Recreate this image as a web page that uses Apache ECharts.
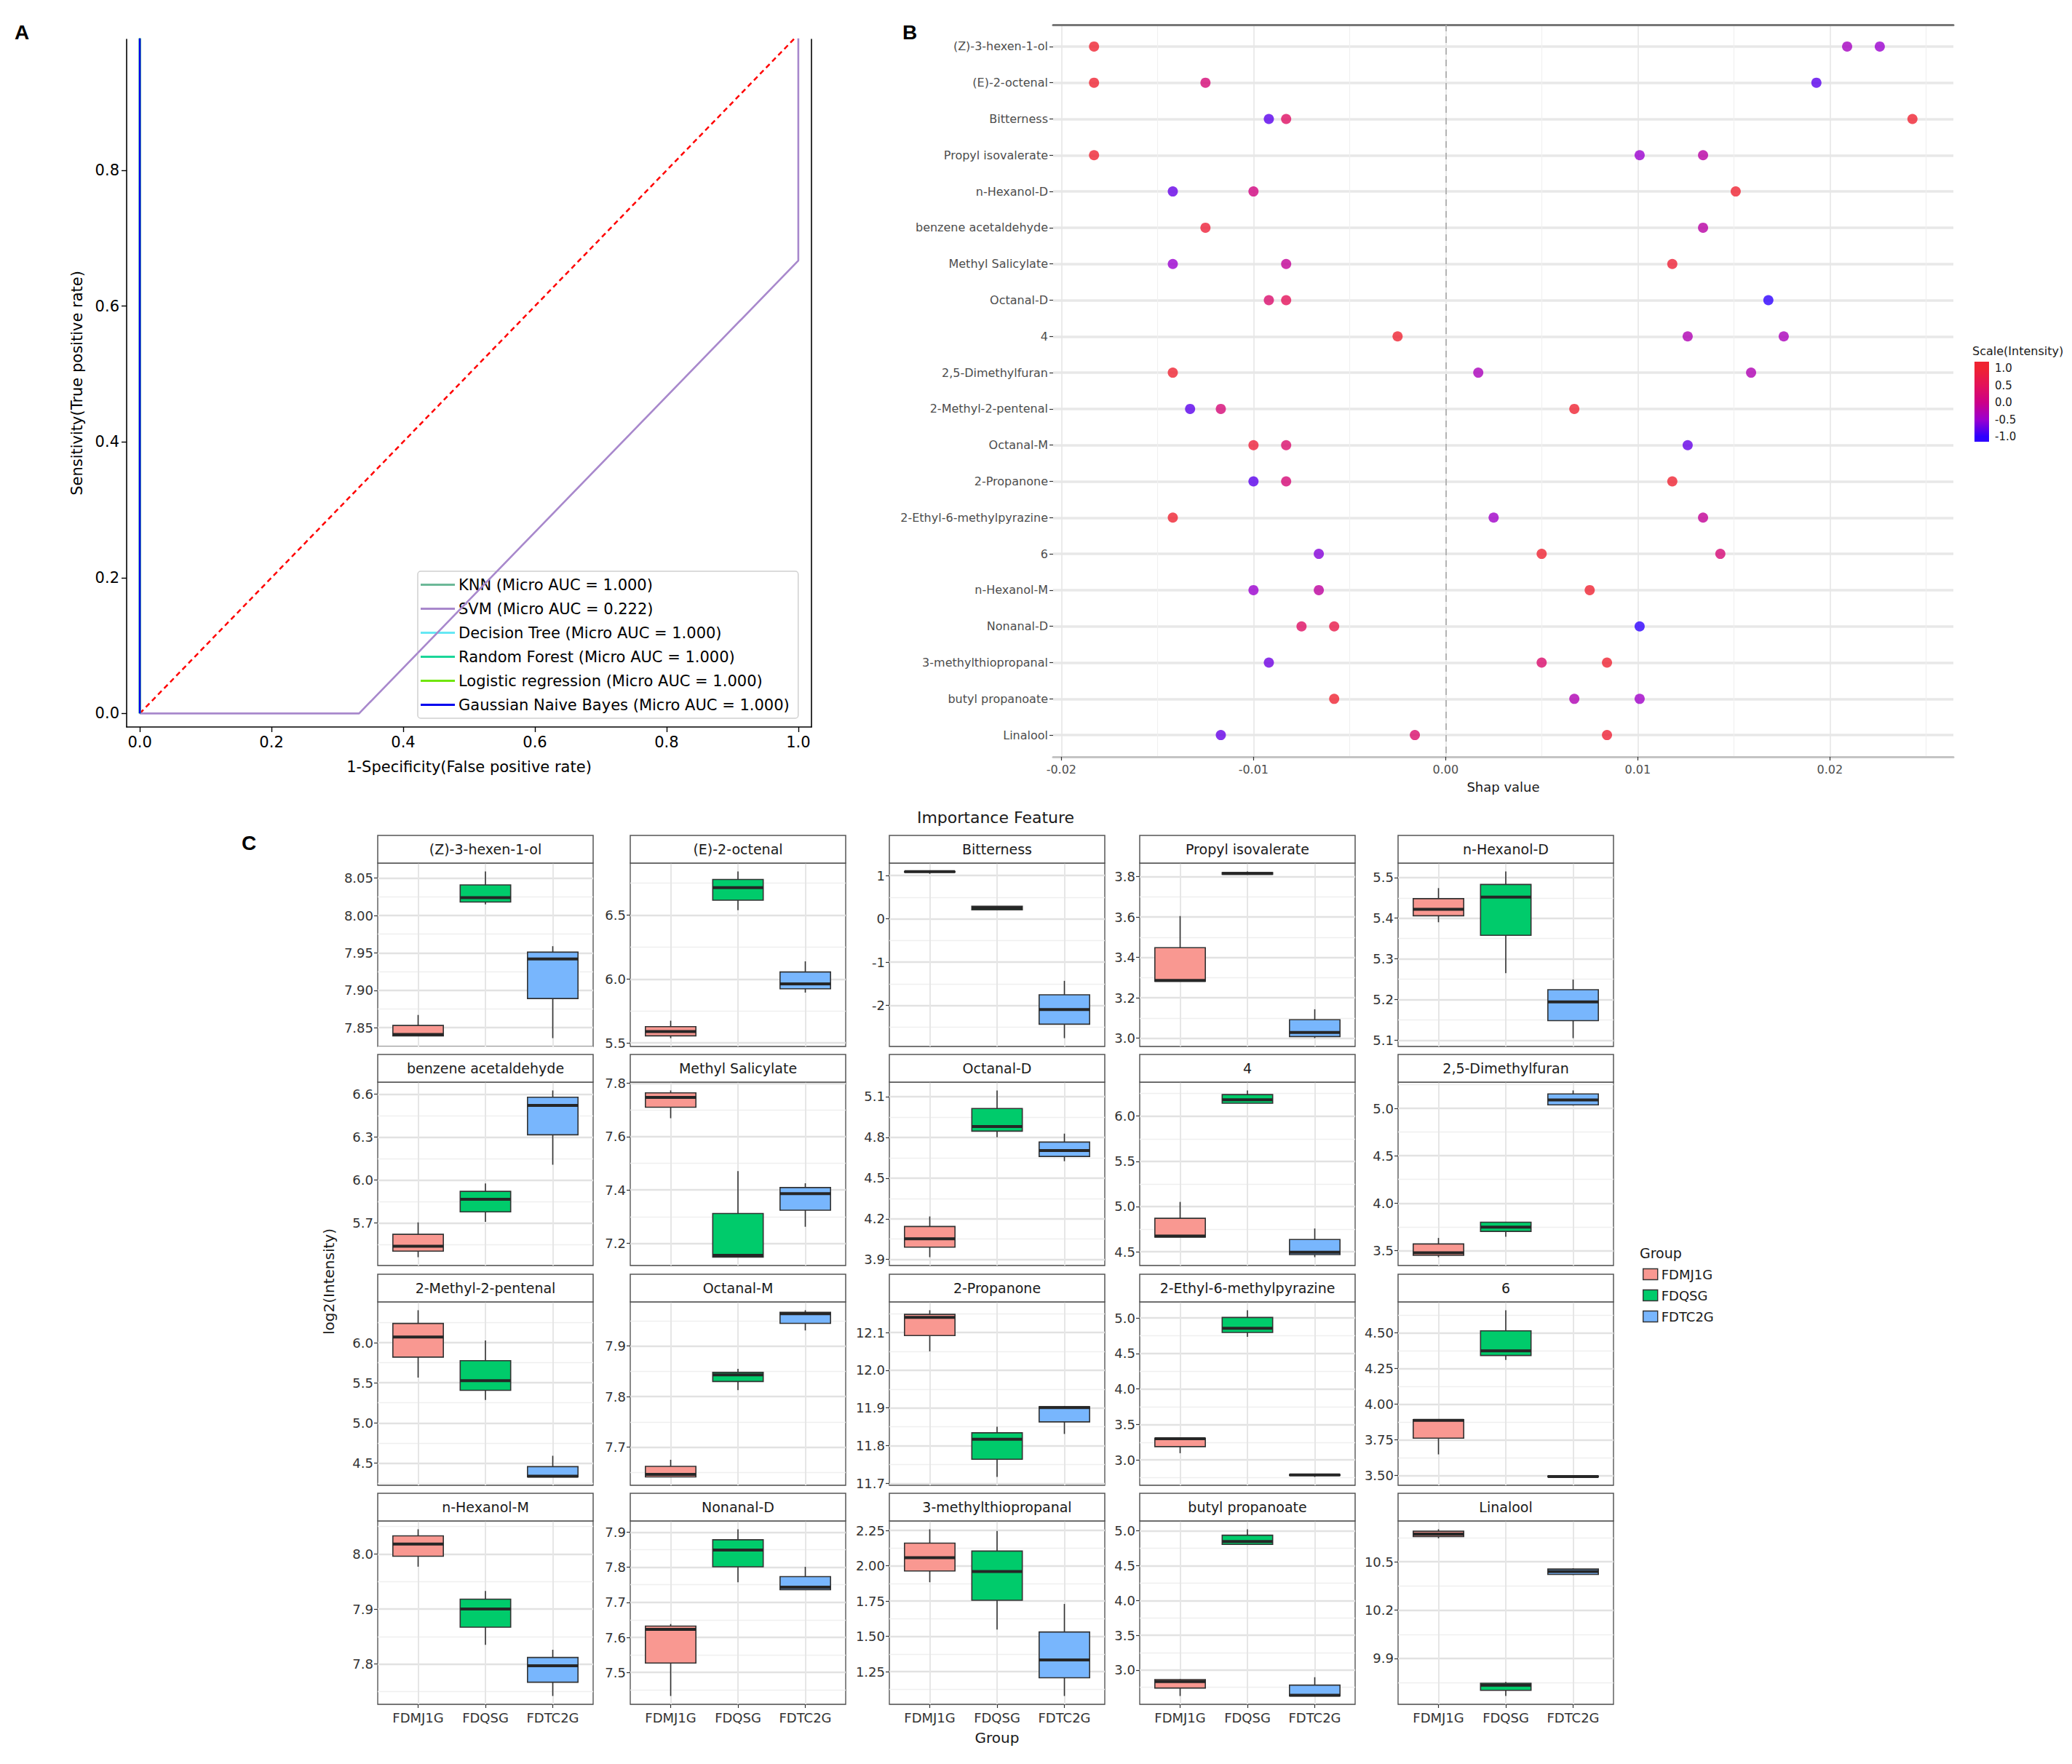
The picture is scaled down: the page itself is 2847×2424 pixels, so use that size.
<!DOCTYPE html>
<html><head><meta charset="utf-8">
<script src="https://cdn.jsdelivr.net/npm/echarts@6/dist/echarts.min.js"></script>
<style>html,body{margin:0;padding:0;background:#fff}#c{width:2847px;height:2424px}</style>
</head><body><div id="c"></div>
<script>
// ================= DATA =================
// Panel A : ROC curves
const rocModels = ['KNN', 'SVM', 'Decision Tree', 'Random Forest', 'Logistic regression', 'Gaussian Naive Bayes'];
const rocAUC = [1.000, 0.222, 1.000, 1.000, 1.000, 1.000];
const rocFPR = [[0, 0, 1], [0, 0.333, 1, 1], [0, 0, 1], [0, 0, 1], [0, 0, 1], [0, 0, 1]];
const rocTPR = [[0, 1, 1], [0, 0, 0.667, 1], [0, 1, 1], [0, 1, 1], [0, 1, 1], [0, 1, 1]];
const rocChanceFPR = [0, 1];
const rocChanceTPR = [0, 1];
const rocXTicks = [0, 0.2, 0.4, 0.6, 0.8, 1.0];
const rocYTicks = [0, 0.2, 0.4, 0.6, 0.8];

// Panel B : SHAP values
const shapFeatures = ['(Z)-3-hexen-1-ol', '(E)-2-octenal', 'Bitterness', 'Propyl isovalerate', 'n-Hexanol-D',
  'benzene acetaldehyde', 'Methyl Salicylate', 'Octanal-D', '4', '2,5-Dimethylfuran',
  '2-Methyl-2-pentenal', 'Octanal-M', '2-Propanone', '2-Ethyl-6-methylpyrazine', '6',
  'n-Hexanol-M', 'Nonanal-D', '3-methylthiopropanal', 'butyl propanoate', 'Linalool'];
const shapValues = [
  [-0.0183, 0.0209, 0.0226], [-0.0183, -0.0125, 0.0193], [-0.0092, -0.0083, 0.0243], [-0.0183, 0.0101, 0.0134],
  [-0.0142, -0.0100, 0.0151], [-0.0125, 0.0134], [-0.0142, -0.0083, 0.0118], [-0.0092, -0.0083, 0.0168],
  [-0.0025, 0.0126, 0.0176], [-0.0142, 0.0017, 0.0159], [-0.0133, -0.0117, 0.0067], [-0.0100, -0.0083, 0.0126],
  [-0.0100, -0.0083, 0.0118], [-0.0142, 0.0025, 0.0134], [-0.0066, 0.0050, 0.0143], [-0.0100, -0.0066, 0.0075],
  [-0.0075, -0.0058, 0.0101], [-0.0092, 0.0050, 0.0084], [-0.0058, 0.0067, 0.0101], [-0.0117, -0.0016, 0.0084]];
const shapIntensity = [
  [1.0, -0.4, -0.5], [1.0, 0.2, -0.8], [-0.8, 0.4, 1.0], [1.0, -0.5, -0.2],
  [-0.75, 0.1, 1.0], [0.9, -0.2], [-0.5, -0.1, 0.95], [0.3, 0.5, -1.0],
  [1.0, -0.3, -0.35], [1.0, -0.35, -0.3], [-0.8, 0.2, 1.0], [0.9, 0.3, -0.75],
  [-0.8, 0.2, 1.0], [1.0, -0.45, -0.1], [-0.6, 1.0, 0.2], [-0.5, -0.15, 1.0],
  [0.4, 0.7, -1.0], [-0.7, 0.3, 1.0], [1.0, -0.3, -0.45], [-0.75, 0.3, 0.95]];
const shapTicks = [-0.02, -0.01, 0.00, 0.01, 0.02];
const scaleTicks = [-1.0, -0.5, 0.0, 0.5, 1.0];

// Panel C : boxplots, per feature, per group: [min, Q1, median, Q3, max]
const groups = ['FDMJ1G', 'FDQSG', 'FDTC2G'];
const boxFeatures = ['(Z)-3-hexen-1-ol', '(E)-2-octenal', 'Bitterness', 'Propyl isovalerate', 'n-Hexanol-D',
  'benzene acetaldehyde', 'Methyl Salicylate', 'Octanal-D', '4', '2,5-Dimethylfuran',
  '2-Methyl-2-pentenal', 'Octanal-M', '2-Propanone', '2-Ethyl-6-methylpyrazine', '6',
  'n-Hexanol-M', 'Nonanal-D', '3-methylthiopropanal', 'butyl propanoate', 'Linalool'];
const boxStats = [
  [[7.839, 7.839, 7.841, 7.853, 7.867], [8.015, 8.018, 8.024, 8.041, 8.059], [7.836, 7.889, 7.942, 7.951, 7.959]],
  [[5.538, 5.556, 5.590, 5.628, 5.674], [6.538, 6.616, 6.714, 6.778, 6.841], [5.894, 5.924, 5.962, 6.055, 6.138]],
  [[1.04, 1.08, 1.09, 1.095, 1.095], [0.21, 0.21, 0.25, 0.29, 0.29], [-2.756, -2.433, -2.094, -1.756, -1.433]],
  [[3.282, 3.282, 3.286, 3.448, 3.605], [3.812, 3.812, 3.816, 3.820, 3.826], [3.000, 3.008, 3.028, 3.091, 3.143]],
  [[5.390, 5.406, 5.422, 5.448, 5.474], [5.265, 5.358, 5.452, 5.483, 5.515], [5.105, 5.148, 5.194, 5.224, 5.249]],
  [[5.460, 5.502, 5.536, 5.620, 5.703], [5.707, 5.777, 5.864, 5.920, 5.975], [6.106, 6.315, 6.521, 6.578, 6.625]],
  [[7.669, 7.710, 7.747, 7.764, 7.773], [7.148, 7.148, 7.155, 7.312, 7.471], [7.262, 7.324, 7.386, 7.409, 7.425]],
  [[3.917, 3.991, 4.053, 4.143, 4.217], [4.800, 4.845, 4.880, 5.012, 5.145], [4.624, 4.659, 4.703, 4.765, 4.827]],
  [[4.662, 4.662, 4.673, 4.870, 5.051], [6.143, 6.143, 6.181, 6.238, 6.284], [4.440, 4.468, 4.495, 4.635, 4.757]],
  [[3.429, 3.449, 3.475, 3.569, 3.632], [3.645, 3.701, 3.747, 3.798, 3.798], [5.030, 5.038, 5.089, 5.153, 5.190]],
  [[5.565, 5.820, 6.072, 6.240, 6.405], [5.287, 5.407, 5.527, 5.776, 6.029], [4.326, 4.326, 4.335, 4.455, 4.590]],
  [[7.641, 7.641, 7.646, 7.662, 7.675], [7.813, 7.830, 7.843, 7.848, 7.855], [7.931, 7.945, 7.964, 7.967, 7.971]],
  [[12.050, 12.092, 12.140, 12.148, 12.159], [11.717, 11.764, 11.817, 11.834, 11.850], [11.831, 11.863, 11.901, 11.903, 11.905]],
  [[3.095, 3.187, 3.299, 3.306, 3.310], [4.735, 4.796, 4.854, 5.007, 5.109], [2.760, 2.785, 2.789, 2.792, 2.795]],
  [[3.648, 3.762, 3.886, 3.892, 3.892], [4.310, 4.341, 4.373, 4.514, 4.658], [3.490, 3.490, 3.493, 3.496, 3.496]],
  [[7.977, 7.996, 8.018, 8.033, 8.045], [7.835, 7.867, 7.900, 7.918, 7.933], [7.742, 7.767, 7.797, 7.812, 7.826]],
  [[7.433, 7.527, 7.623, 7.632, 7.638], [7.757, 7.801, 7.849, 7.878, 7.908], [7.736, 7.736, 7.743, 7.773, 7.801]],
  [[1.884, 1.964, 2.058, 2.161, 2.259], [1.548, 1.756, 1.960, 2.105, 2.247], [1.078, 1.207, 1.334, 1.531, 1.730]],
  [[2.626, 2.740, 2.834, 2.862, 2.870], [4.806, 4.806, 4.848, 4.938, 5.024], [2.626, 2.626, 2.637, 2.782, 2.896]],
  [[10.646, 10.657, 10.672, 10.690, 10.702], [9.667, 9.702, 9.734, 9.746, 9.754], [10.418, 10.422, 10.440, 10.455, 10.460]]];
const boxTickLabels = [
  ['7.85', '7.90', '7.95', '8.00', '8.05'], ['5.5', '6.0', '6.5'], ['-2', '-1', '0', '1'], ['3.0', '3.2', '3.4', '3.6', '3.8'], ['5.1', '5.2', '5.3', '5.4', '5.5'],
  ['5.7', '6.0', '6.3', '6.6'], ['7.2', '7.4', '7.6', '7.8'], ['3.9', '4.2', '4.5', '4.8', '5.1'], ['4.5', '5.0', '5.5', '6.0'], ['3.5', '4.0', '4.5', '5.0'],
  ['4.5', '5.0', '5.5', '6.0'], ['7.7', '7.8', '7.9'], ['11.7', '11.8', '11.9', '12.0', '12.1'], ['3.0', '3.5', '4.0', '4.5', '5.0'], ['3.50', '3.75', '4.00', '4.25', '4.50'],
  ['7.8', '7.9', '8.0'], ['7.5', '7.6', '7.7', '7.8', '7.9'], ['1.25', '1.50', '1.75', '2.00', '2.25'], ['3.0', '3.5', '4.0', '4.5', '5.0'], ['9.9', '10.2', '10.5']];

// ================= STYLE / LAYOUT =================
const FONT = 'DejaVu Sans';
const rocColors = ['#6cb898', '#a888cc', '#66e8f4', '#1bd699', '#70e60a', '#0000ee'];
const groupColors = ['#f99891', '#00cb6b', '#78b6fd'];
const scaleColors = ['#2e00ff', '#9b00cf', '#cc0088', '#e3125a', '#ef2332'];
const colLeft = [519, 866, 1222, 1566, 1921];
const rowTop = [1186, 1487, 1789, 2090];
const panelW = 296, plotH = 252, stripH = 38;

const chart = echarts.init(document.getElementById('c'), null, {renderer: 'svg', width: 2847, height: 2424});
const grid = [], xAxis = [], yAxis = [], series = [], graphic = [];

function gtext(text, x, y, size, o) {
  o = o || {};
  const align = o.align || 'left', valign = o.valign || 'middle';
  return {type: 'text', x: x, y: y, rotation: o.rot || 0, z: 20, silent: true,
    style: {text: text, fill: o.color || '#1a1a1a',
      font: (o.weight || 'normal') + ' ' + size + 'px "' + (o.family || FONT) + '"',
      textAlign: align, textVerticalAlign: valign, align: align, verticalAlign: valign}};
}
const hiddenLine = {show: false, onZero: false};

// ---------- Panel A ----------
const gA = grid.length;
grid.push({left: 174, top: 54, width: 941, height: 945, show: false});
const xA = xAxis.length;
xAxis.push({gridIndex: gA, type: 'value', min: -0.02, max: 1.02,
  axisLine: {show: true, onZero: false, lineStyle: {color: '#000', width: 1.6}},
  axisTick: {show: true, length: 7, lineStyle: {color: '#000', width: 1.4}, customValues: rocXTicks},
  axisLabel: {customValues: rocXTicks, formatter: v => Number(v).toFixed(1), fontSize: 21, color: '#000', fontFamily: FONT, margin: 10, hideOverlap: false},
  splitLine: {show: false},
  name: '1-Specificity(False positive rate)', nameLocation: 'middle', nameGap: 44,
  nameTextStyle: {fontSize: 21, color: '#000', fontFamily: FONT}});
const yA = yAxis.length;
yAxis.push({gridIndex: gA, type: 'value', min: -0.02, max: 0.993,
  axisLine: {show: true, onZero: false, lineStyle: {color: '#000', width: 1.6}},
  axisTick: {show: true, length: 7, lineStyle: {color: '#000', width: 1.4}, customValues: rocYTicks},
  axisLabel: {customValues: rocYTicks, formatter: v => Number(v).toFixed(1), fontSize: 21, color: '#000', fontFamily: FONT, margin: 10, hideOverlap: false},
  splitLine: {show: false},
  name: 'Sensitivity(True positive rate)', nameLocation: 'middle', nameGap: 58,
  nameTextStyle: {fontSize: 21, color: '#000', fontFamily: FONT}});
yAxis.push({gridIndex: gA, type: 'value', position: 'right', min: -0.02, max: 0.993,
  axisLine: {show: true, onZero: false, lineStyle: {color: '#000', width: 1.6}},
  axisTick: {show: false}, axisLabel: {show: false}, splitLine: {show: false}});
series.push({type: 'line', name: 'chance', xAxisIndex: xA, yAxisIndex: yA,
  data: rocChanceFPR.map((x, j) => [x, rocChanceTPR[j]]), symbol: 'none',
  lineStyle: {color: '#ff0000', width: 2.5, type: [7, 5]}, itemStyle: {color: '#ff0000'}, z: 2});
const rocNames = rocModels.map((m, i) => m + ' (Micro AUC = ' + rocAUC[i].toFixed(3) + ')');
rocModels.forEach((m, i) => {
  series.push({type: 'line', name: rocNames[i], xAxisIndex: xA, yAxisIndex: yA,
    data: rocFPR[i].map((x, j) => [x, rocTPR[i][j]]), symbol: 'none', showSymbol: false,
    lineStyle: {color: rocColors[i], width: 2.6}, itemStyle: {color: rocColors[i]}, z: 3 + i});
});

// ---------- Panel B ----------
const gB = grid.length;
grid.push({left: 1447, top: 34, width: 1237, height: 1006, show: false});
const allShap = shapValues.flat();
const sMin = Math.min(...allShap), sMax = Math.max(...allShap), sPad = 0.05 * (sMax - sMin);
const shapStep = shapTicks[1] - shapTicks[0];
const shapMinor = [];
for (let k = -1; k < shapTicks.length; k++) {
  const m = shapTicks[0] + (k + 0.5) * shapStep;
  if (m > sMin - sPad && m < sMax + sPad) shapMinor.push(+m.toFixed(4));
}
const xB = xAxis.length;
xAxis.push({gridIndex: gB, type: 'value', min: sMin - sPad, max: sMax + sPad,
  axisLine: {show: true, onZero: false, lineStyle: {color: '#c4c4c4', width: 3}},
  axisTick: {show: true, length: 5, lineStyle: {color: '#333', width: 1.2}, customValues: shapTicks},
  axisLabel: {customValues: shapTicks, formatter: v => Number(v).toFixed(2), fontSize: 16, color: '#4d4d4d', fontFamily: FONT, margin: 9, hideOverlap: false},
  splitLine: {show: true, customValues: shapTicks, lineStyle: {color: '#e6e6e6', width: 1.6, type: 'solid'}},
  name: 'Shap value', nameLocation: 'middle', nameGap: 32,
  nameTextStyle: {fontSize: 18, color: '#1a1a1a', fontFamily: FONT}});
xAxis.push({gridIndex: gB, type: 'value', position: 'top', min: sMin - sPad, max: sMax + sPad,
  axisLine: {show: true, onZero: false, lineStyle: {color: '#777', width: 3}},
  axisTick: {show: false, customValues: shapMinor}, axisLabel: {show: false, customValues: shapMinor},
  splitLine: {show: true, customValues: shapMinor, lineStyle: {color: '#f0f0f0', width: 1.2, type: 'solid'}}});
const rowIdx = shapFeatures.map((f, i) => i);
const yB = yAxis.length;
yAxis.push({gridIndex: gB, type: 'value', inverse: true, min: -0.6, max: shapFeatures.length - 1 + 0.6,
  axisLine: hiddenLine,
  axisTick: {show: true, length: 5, lineStyle: {color: '#333', width: 1.2}, customValues: rowIdx},
  axisLabel: {customValues: rowIdx, formatter: v => shapFeatures[Math.round(v)], fontSize: 16, color: '#4d4d4d', fontFamily: FONT, margin: 7, hideOverlap: false},
  splitLine: {show: true, customValues: rowIdx, lineStyle: {color: '#e8e8e8', width: 3.5, type: 'solid'}}});
const scatterData = [];
shapValues.forEach((row, i) => row.forEach((v, j) => scatterData.push([v, i, shapIntensity[i][j]])));
const scatterIdx = series.length;
series.push({type: 'scatter', name: 'shap', xAxisIndex: xB, yAxisIndex: yB, data: scatterData,
  symbolSize: 14, itemStyle: {opacity: 0.8}, z: 4,
  markLine: {silent: true, symbol: 'none', z: 1, label: {show: false},
    lineStyle: {color: '#a6a6a6', type: [9, 7], width: 1.6}, data: [{xAxis: 0}]}});

// colour bar for panel B
const gCB = grid.length;
grid.push({left: 2713, top: 497, width: 20, height: 110, show: false});
const xCB = xAxis.length;
xAxis.push({gridIndex: gCB, type: 'value', min: 0, max: 1, show: false, axisLine: hiddenLine});
const yCB = yAxis.length;
const cbMin = -1.15, cbMax = 1.2;
yAxis.push({gridIndex: gCB, type: 'value', position: 'right', min: cbMin, max: cbMax,
  axisLine: hiddenLine,
  axisTick: {show: true, inside: true, length: 4, lineStyle: {color: '#fff', width: 1.2}, customValues: scaleTicks},
  axisLabel: {customValues: scaleTicks, formatter: v => Number(v).toFixed(1), fontSize: 15, color: '#1a1a1a', fontFamily: FONT, margin: 8, hideOverlap: false},
  splitLine: {show: false}});
const cbStops = [{offset: 0, color: scaleColors[4]}];
scaleTicks.slice().reverse().forEach((v, k) => cbStops.push({offset: (cbMax - v) / (cbMax - cbMin), color: scaleColors[4 - k]}));
cbStops.push({offset: 1, color: scaleColors[0]});
series.push({type: 'custom', name: 'colorbar', xAxisIndex: xCB, yAxisIndex: yCB, silent: true,
  data: [[0, cbMin, cbMax]], encode: {x: 0, y: [1, 2]},
  renderItem: (params, api) => {
    const p0 = api.coord([0, api.value(2)]), p1 = api.coord([1, api.value(1)]);
    return {type: 'rect', shape: {x: p0[0], y: p0[1], width: p1[0] - p0[0], height: p1[1] - p0[1]},
      style: {fill: new echarts.graphic.LinearGradient(0, 0, 0, 1, cbStops)}};
  }});

// ---------- Panel C ----------
function renderBox(params, api) {
  const x = api.value(0);
  const lo = api.coord([x, api.value(1)]);
  const q1 = api.coord([x, api.value(2)]);
  const md = api.coord([x, api.value(3)]);
  const q3 = api.coord([x, api.value(4)]);
  const hi = api.coord([x, api.value(5)]);
  const w = api.size([0.75, 0])[0];
  const fill = api.visual('color');
  return {type: 'group', children: [
    {type: 'line', shape: {x1: lo[0], y1: lo[1], x2: hi[0], y2: hi[1]}, style: {stroke: '#333', lineWidth: 1.6}},
    {type: 'rect', shape: {x: q3[0] - w / 2, y: q3[1], width: w, height: Math.max(q1[1] - q3[1], 1)},
      style: {fill: fill, stroke: '#333', lineWidth: 1.6}},
    {type: 'line', shape: {x1: md[0] - w / 2, y1: md[1], x2: md[0] + w / 2, y2: md[1]}, style: {stroke: '#262626', lineWidth: 4}}
  ]};
}
const groupIdx = groups.map((g, i) => i);
boxFeatures.forEach((name, p) => {
  const r = Math.floor(p / 5), c = p % 5;
  const left = colLeft[c], top = rowTop[r];
  const gi = grid.length;
  grid.push({left: left, top: top, width: panelW, height: plotH, show: true, backgroundColor: '#fff', borderColor: '#4a4a4a', borderWidth: 1.3});
  const stats = boxStats[p];
  const lo = Math.min(...stats.map(s => s[0])), hi = Math.max(...stats.map(s => s[4]));
  const pad = 0.05 * (hi - lo);
  const ymin = lo - pad, ymax = hi + pad;
  const ticks = boxTickLabels[p].map(Number);
  const dec = (boxTickLabels[p][0].split('.')[1] || '').length;
  const step = ticks[1] - ticks[0];
  const minors = [];
  for (let k = -1; k < ticks.length; k++) {
    const m = ticks[0] + (k + 0.5) * step;
    if (m > ymin && m < ymax) minors.push(+m.toFixed(4));
  }
  const isBottom = r === 3;
  const xi = xAxis.length;
  const xa = {gridIndex: gi, type: 'value', min: -0.6, max: groups.length - 1 + 0.6,
    axisLine: hiddenLine,
    axisTick: {show: isBottom, length: 5, lineStyle: {color: '#333', width: 1.2}, customValues: groupIdx},
    axisLabel: {show: isBottom, customValues: groupIdx, formatter: v => groups[Math.round(v)], fontSize: 18, color: '#333', fontFamily: FONT, margin: 9, hideOverlap: false},
    splitLine: {show: true, customValues: groupIdx, lineStyle: {color: '#e6e6e6', width: 2, type: 'solid'}}};
  if (p === 17) {
    xa.name = 'Group'; xa.nameLocation = 'middle'; xa.nameGap = 36;
    xa.nameTextStyle = {fontSize: 20, color: '#1a1a1a', fontFamily: FONT};
  }
  xAxis.push(xa);
  const yi = yAxis.length;
  yAxis.push({gridIndex: gi, type: 'value', min: ymin, max: ymax,
    axisLine: hiddenLine,
    axisTick: {show: true, length: 5, lineStyle: {color: '#333', width: 1.2}, customValues: ticks},
    axisLabel: {customValues: ticks, formatter: v => Number(v).toFixed(dec), fontSize: 18, color: '#333', fontFamily: FONT, margin: 6, hideOverlap: false},
    splitLine: {show: true, customValues: ticks, lineStyle: {color: '#e2e2e2', width: 2.4, type: 'solid'}}});
  yAxis.push({gridIndex: gi, type: 'value', position: 'right', min: ymin, max: ymax,
    axisLine: hiddenLine, axisTick: {show: false, customValues: minors}, axisLabel: {show: false, customValues: minors},
    splitLine: {show: true, customValues: minors, lineStyle: {color: '#efefef', width: 1.4, type: 'solid'}}});
  groups.forEach((g, k) => {
    series.push({type: 'custom', name: g, xAxisIndex: xi, yAxisIndex: yi,
      data: [[k].concat(stats[k])], encode: {x: 0, y: [1, 2, 3, 4, 5]},
      itemStyle: {color: groupColors[k]}, renderItem: renderBox, z: 3});
  });
  // strip header
  graphic.push({type: 'rect', silent: true, z: 5, shape: {x: left, y: top - stripH, width: panelW, height: stripH},
    style: {fill: '#fff', stroke: '#555', lineWidth: 1.5}});
  graphic.push(gtext(name, left + panelW / 2, top - stripH / 2, 19, {align: 'center', color: '#1a1a1a'}));
});

// ---------- free texts ----------
graphic.push(gtext('A', 20, 44, 28, {weight: 'bold', family: 'Liberation Sans', color: '#000'}));
graphic.push(gtext('B', 1240, 44, 28, {weight: 'bold', family: 'Liberation Sans', color: '#000'}));
graphic.push(gtext('C', 332, 1158, 28, {weight: 'bold', family: 'Liberation Sans', color: '#000'}));
graphic.push(gtext('Importance Feature', 1368, 1123, 22, {align: 'center'}));
graphic.push(gtext('log2(Intensity)', 452, 1761, 20, {align: 'center', rot: Math.PI / 2}));
graphic.push(gtext('Group', 2253, 1722, 19));
graphic.push(gtext('Scale(Intensity)', 2710, 482, 16));

const option = {
  animation: false,
  backgroundColor: '#fff',
  textStyle: {fontFamily: FONT},
  grid: grid, xAxis: xAxis, yAxis: yAxis, series: series, graphic: graphic,
  visualMap: [{type: 'continuous', show: false, seriesIndex: scatterIdx, dimension: 2, min: -1, max: 1,
    inRange: {color: scaleColors}}],
  legend: [
    {data: rocNames, left: 574, top: 785, orient: 'vertical', icon: 'rect', itemWidth: 47, itemHeight: 3,
      itemGap: 12, itemTextGap: 14, padding: [8, 12, 8, 4], borderColor: '#d0d0d0', borderWidth: 1.5, borderRadius: 4,
      backgroundColor: 'rgba(255,255,255,0.85)', selectedMode: false,
      textStyle: {fontSize: 21, color: '#000', fontFamily: FONT, lineHeight: 20}},
    {data: groups, left: 2257, top: 1742, orient: 'vertical', icon: 'rect', itemWidth: 20, itemHeight: 15,
      itemGap: 11, itemTextGap: 14, padding: 0, selectedMode: false,
      itemStyle: {borderColor: '#333', borderWidth: 1.4},
      textStyle: {fontSize: 18, color: '#1a1a1a', fontFamily: FONT, lineHeight: 16}}
  ]
};
chart.setOption(option);
</script>
</body></html>
